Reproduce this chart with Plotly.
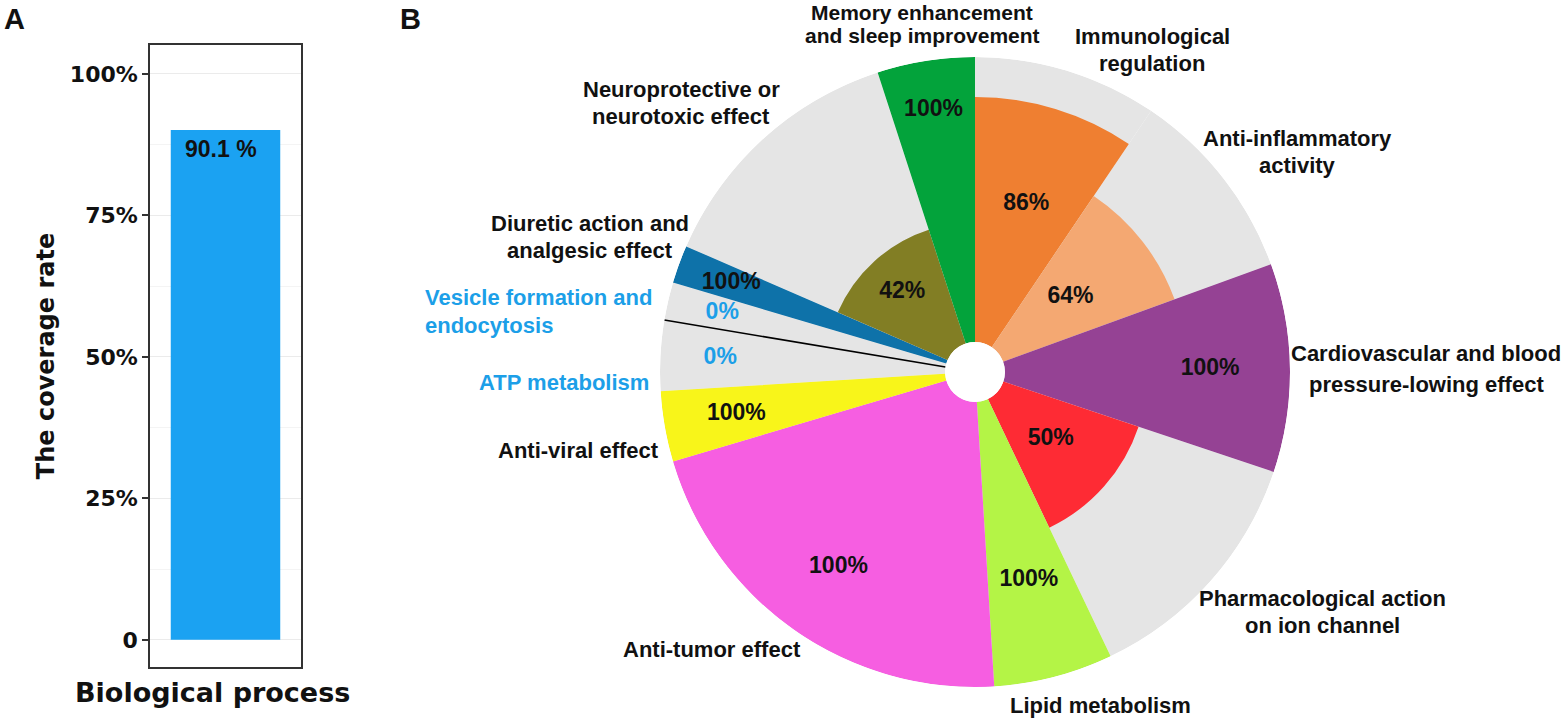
import numpy as np
import plotly.graph_objects as go

# ---------------- Panel A data ----------------
process_category = ["Biological process"]
process_coverage = [90.1]
coverage_tickvals = [0, 25, 50, 75, 100]
coverage_ticktext = ["0", "25%", "50%", "75%", "100%"]
coverage_minor = [12.5, 37.5, 62.5, 87.5]

# ---------------- Panel B data (clockwise from 12 o'clock) ----------------
effect_names = [
    "Immunological\nregulation",
    "Anti-inflammatory\nactivity",
    "Cardiovascular and blood\npressure-lowing effect",
    "Pharmacological action\non ion channel",
    "Lipid metabolism",
    "Anti-tumor effect",
    "Anti-viral effect",
    "ATP metabolism",
    "Vesicle formation and\nendocytosis",
    "Diuretic action and\nanalgesic effect",
    "Neuroprotective or\nneurotoxic effect",
    "Memory enhancement\nand sleep improvement",
]
effect_share = [34, 36, 38.5, 46, 22, 77, 13, 13, 7, 7, 48.5, 18]   # sector angular width (deg)
effect_coverage = [86, 64, 100, 50, 100, 100, 100, 0, 0, 100, 42, 100]

# ---------------- styles ----------------
effect_colors = ["#ef7f31", "#f4a872", "#954294", "#fe2b34", "#b4f446", "#f65ee1",
                 "#f8f51a", "#e5e5e5", "#e5e5e5", "#0e72a9", "#827e24", "#03a33b"]
grey_bg = "#e5e5e5"
blue_txt = "#1c9fe8"
label_r = [51, 32, 72, 25, 65, 73, 74.5, 79, 80.5, 80.5, 27.5, 82.5]
# outer label centres in pixels, line spacing, font size, alignment
label_px = [(1152, 50), (1297, 152), (1426, 369), (1322, 612), (1100, 705), (712, 649),
            (578, 451), (564, 382), (423, 311), (590, 237), (681, 103), (922, 23.5)]
label_lh = [28, 27, 30, 27, 27, 27, 27, 27, 28, 28, 27, 23]
label_fs = [22] * 11 + [21]
label_align = ["center"] * 8 + ["left"] + ["center"] * 3

W, H = 1567, 719
BOLD = "Liberation Sans"
NARROW = "Liberation Sans Narrow, Arial Narrow, Liberation Sans"
DEJA = "DejaVu Sans"


def fx(p):
    return p / W


def fy(p):
    return 1 - p / H


fig = go.Figure()

# ---------------- Panel A ----------------
fig.add_trace(go.Bar(
    x=process_category, y=process_coverage, width=0.87,
    marker=dict(color="#1ba2f2", line=dict(width=0)),
    xaxis="x", yaxis="y", showlegend=False, hoverinfo="y",
))

annotations = [
    dict(x=process_category[0], y=process_coverage[0], xref="x", yref="y",
         text=f"<b>{process_coverage[0]} %</b>", showarrow=False, xanchor="center",
         yanchor="top", xshift=-5, yshift=-4,
         font=dict(family=NARROW, size=23, color="#111111")),
    dict(x=fx(212), y=fy(692), xref="paper", yref="paper", text="<b>Biological process</b>",
         showarrow=False, xanchor="center", yanchor="middle",
         font=dict(family=DEJA, size=27, color="#111111")),
    dict(x=fx(14), y=fy(19), xref="paper", yref="paper", text="<b>A</b>", showarrow=False,
         xanchor="center", yanchor="middle",
         font=dict(family=BOLD, size=29, color="#111111")),
    dict(x=fx(410), y=fy(19), xref="paper", yref="paper", text="<b>B</b>", showarrow=False,
         xanchor="center", yanchor="middle",
         font=dict(family=BOLD, size=29, color="#111111")),
]

fig.update_layout(
    xaxis=dict(domain=[fx(150), fx(301)], range=[-0.6, 0.6], showticklabels=False, ticks="",
               showline=True, mirror=True, linecolor="#333333", linewidth=1.6, showgrid=False,
               zeroline=False, fixedrange=True),
    yaxis=dict(domain=[fy(667), fy(45)], range=[-4.8, 105.1], tickmode="array",
               tickvals=coverage_tickvals, ticktext=[f"<b>{t}</b>" for t in coverage_ticktext],
               ticks="outside", ticklen=6, tickwidth=1.6, tickcolor="#333333",
               tickfont=dict(family=DEJA, size=22, color="#111111"),
               showline=True, mirror=True, linecolor="#333333", linewidth=1.6,
               showgrid=True, gridcolor="#ebebeb", gridwidth=1.4, zeroline=False,
               minor=dict(tickvals=coverage_minor, showgrid=True, gridcolor="#f4f4f4",
                          gridwidth=1, ticks=""),
               title=dict(text="<b>The coverage rate</b>", standoff=8,
                          font=dict(family=DEJA, size=24, color="#111111"))),
)

# ---------------- Panel B ----------------
share = np.array(effect_share, dtype=float)
bounds = np.cumsum(share)
centers = bounds - share / 2

fig.add_trace(go.Barpolar(
    r=[max(coverage_tickvals)] * len(effect_names), theta=centers, width=share,
    marker=dict(color=grey_bg, line=dict(width=0)), showlegend=False, hoverinfo="skip",
))
fig.add_trace(go.Barpolar(
    r=effect_coverage, theta=centers, width=share,
    marker=dict(color=effect_colors, line=dict(width=0)), showlegend=False,
    text=[n.replace("\n", " ") for n in effect_names], hoverinfo="text+r",
))
sep = bounds[effect_names.index("ATP metabolism")]
fig.add_trace(go.Scatterpolar(
    r=[0, max(coverage_tickvals)], theta=[sep, sep], mode="lines",
    line=dict(color="#000000", width=1.6), showlegend=False, hoverinfo="skip",
))
fig.add_trace(go.Scatterpolar(
    r=label_r, theta=centers, mode="text",
    text=[f"<b>{v}%</b>" for v in effect_coverage],
    textfont=dict(family=NARROW, size=23,
                  color=[blue_txt if v == 0 else "#111111" for v in effect_coverage]),
    showlegend=False, hoverinfo="skip",
))

for name, v, (lx, ly), lh, fs, al in zip(effect_names, effect_coverage, label_px, label_lh,
                                         label_fs, label_align):
    lines = name.split("\n")
    n = len(lines)
    for i, line in enumerate(lines):
        yy = ly + (i - (n - 1) / 2) * lh
        annotations.append(dict(
            x=fx(lx), y=fy(yy), xref="paper", yref="paper", text=f"<b>{line}</b>",
            showarrow=False, xanchor="left" if al == "left" else "center", yanchor="middle",
            font=dict(family=BOLD, size=fs, color=blue_txt if v == 0 else "#111111"),
        ))

fig.update_layout(
    polar=dict(
        domain=dict(x=[fx(660), fx(1290)], y=[fy(687), fy(57)]),
        hole=0.095, bgcolor="rgba(0,0,0,0)", barmode="overlay", bargap=0,
        radialaxis=dict(range=[0, 100], visible=False),
        angularaxis=dict(rotation=90, direction="clockwise", visible=False),
    ),
    annotations=annotations,
    width=W, height=H, autosize=False,
    margin=dict(l=0, r=0, t=0, b=0),
    paper_bgcolor="white", plot_bgcolor="white",
    showlegend=False,
)

fig.write_html(
    "out.html",
    config={"displayModeBar": False},
    post_script="document.body.style.margin='0';document.body.style.padding='0';"
                "document.body.style.overflow='hidden';",
)
